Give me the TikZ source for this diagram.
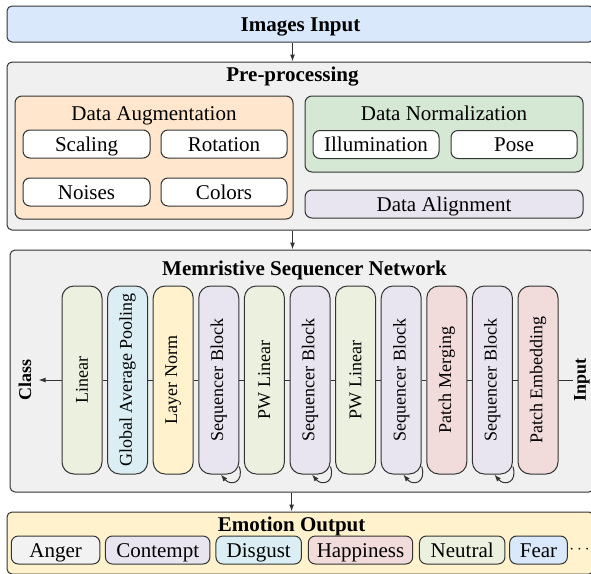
\documentclass[tikz,border=0pt]{standalone}
\usepackage{fontspec}
\setmainfont{Liberation Serif}
\usepackage{graphicx}
\usetikzlibrary{arrows.meta}
\definecolor{inblue}{HTML}{DAE8FC}
\definecolor{panelgray}{HTML}{F0F0F0}
\definecolor{anggray}{HTML}{F2F2F2}
\definecolor{augorange}{HTML}{FFE6CC}
\definecolor{normgreen}{HTML}{D5E8D4}
\definecolor{seqlav}{HTML}{E9E5F0}
\definecolor{lingreen}{HTML}{EBF1DE}
\definecolor{poolcyan}{HTML}{DAEEF3}
\definecolor{normyellow}{HTML}{FFF2CC}
\definecolor{patchpink}{HTML}{F2DCDB}
\newcommand{\diagtext}{\fontsize{21}{24}\selectfont}
\newcommand{\layertext}{\fontsize{18}{20}\selectfont}
\tikzset{
    panel/.style={draw=black!80, line width=1pt, rounded corners=5pt, fill=panelgray, inner sep=0pt},
    group/.style={draw=black!80, line width=1pt, rounded corners=7pt, inner sep=0pt},
    item/.style={draw=black!80, line width=1pt, rounded corners=7pt, fill=white, minimum height=28pt, text height=14pt, text depth=0pt, inner sep=0pt, font=\diagtext},
    layer/.style={draw=black!80, line width=1pt, rounded corners=12pt, minimum width=40pt, minimum height=188pt, inner sep=0pt, font=\layertext},
    heading/.style={anchor=base, font=\diagtext\bfseries},
    subheading/.style={anchor=base, font=\diagtext},
    sidelabel/.style={inner sep=1pt, font=\layertext\bfseries},
    link/.style={draw=black!80, line width=1pt},
    flow/.style={link, -{Latex[length=7pt,width=5pt]}},
    loopback/.style={link, -{Latex[length=7pt,width=5pt]}},
}

\begin{document}
\begin{tikzpicture}[x=1pt,y=-1pt]
            \useasboundingbox (0,0) rectangle (591,573);

            \node[panel, fill=inblue, minimum width=587pt, minimum height=36pt, text height=14pt, text depth=0pt, font=\diagtext\bfseries] (img) at (300.5,24) {Images Input};

            \node[panel, minimum width=587pt, minimum height=168pt] (pre) at (300.5,146) {};
            \node[heading] (prettl) at (292.5,81) {Pre-processing};
            \node[group, fill=augorange, minimum width=278pt, minimum height=123pt] (aug) at (154,157.5) {};
            \node[subheading] (augttl) at (154,120) {Data Augmentation};
            \node[item, minimum width=127pt] (scl) at (86.5,144) {Scaling};
            \node[item, minimum width=126pt] (rot) at (224,144) {Rotation};
            \node[item, minimum width=127pt] (noi) at (86.5,192) {Noises};
            \node[item, minimum width=126pt] (clr) at (224,192) {Colors};
            \node[group, fill=normgreen, minimum width=278pt, minimum height=76pt] (nrm) at (444,134) {};
            \node[subheading] (nrmttl) at (444,120) {Data Normalization};
            \node[item, minimum width=126pt] (ill) at (376,144.5) {Illumination};
            \node[item, minimum width=126pt] (pos) at (514,144.5) {Pose};
            \node[item, fill=seqlav, minimum width=278pt] (aln) at (444,204) {Data Alignment};

            \node[panel, minimum width=584pt, minimum height=242pt] (net) at (302,371) {};
            \node[heading] (netttl) at (304.5,275) {Memristive Sequencer Network};
            \node[layer, fill=lingreen] (lin) at (82,380) {\rotatebox{90}{Linear}};
            \node[layer, fill=poolcyan] (gap) at (127.6,380) {\rotatebox{90}{Global Average Pooling}};
            \node[layer, fill=normyellow] (ln) at (173.2,380) {\rotatebox{90}{Layer Norm}};
            \node[layer, fill=seqlav] (sba) at (218.8,380) {\rotatebox{90}{Sequencer Block}};
            \node[layer, fill=lingreen] (pwa) at (264.4,380) {\rotatebox{90}{PW Linear}};
            \node[layer, fill=seqlav] (sbb) at (310,380) {\rotatebox{90}{Sequencer Block}};
            \node[layer, fill=lingreen] (pwb) at (355.6,380) {\rotatebox{90}{PW Linear}};
            \node[layer, fill=seqlav] (sbc) at (401.2,380) {\rotatebox{90}{Sequencer Block}};
            \node[layer, fill=patchpink] (pm) at (446.8,380) {\rotatebox{90}{Patch Merging}};
            \node[layer, fill=seqlav] (sbd) at (492.4,380) {\rotatebox{90}{Sequencer Block}};
            \node[layer, fill=patchpink] (pe) at (538,380) {\rotatebox{90}{Patch Embedding}};
            \node[sidelabel, inner xsep=7pt] (cls) at (25,380) {\rotatebox{90}{Class}};
            \node[sidelabel] (inp) at (582,380) {\rotatebox{90}{Input}};

            \draw[link] (pe) -- (inp);
            \draw[link] (pe) -- (sbd);
            \draw[link] (sbd) -- (pm);
            \draw[link] (pm) -- (sbc);
            \draw[link] (sbc) -- (pwb);
            \draw[link] (pwb) -- (sbb);
            \draw[link] (sbb) -- (pwa);
            \draw[link] (pwa) -- (sba);
            \draw[link] (sba) -- (ln);
            \draw[link] (ln) -- (gap);
            \draw[link] (gap) -- (lin);
            \draw[flow] (lin) -- (cls);

            \draw[loopback] ([yshift=8pt]sba.south east) .. controls +(5,16) and +(10,12) .. ([xshift=2pt]sba.south);
            \draw[loopback] ([yshift=8pt]sbb.south east) .. controls +(5,16) and +(10,12) .. ([xshift=2pt]sbb.south);
            \draw[loopback] ([yshift=8pt]sbc.south east) .. controls +(5,16) and +(10,12) .. ([xshift=2pt]sbc.south);
            \draw[loopback] ([yshift=8pt]sbd.south east) .. controls +(5,16) and +(10,12) .. ([xshift=2pt]sbd.south);

            \node[panel, fill=normyellow, minimum width=587pt, minimum height=62pt] (emo) at (300.5,543) {};
            \node[heading] (emottl) at (291.6,531) {Emotion Output};
            \node[item, fill=anggray, minimum width=88.6pt] (ang) at (55.6,550) {Anger};
            \node[item, fill=seqlav, minimum width=104.5pt] (cnt) at (157.7,550) {Contempt};
            \node[item, fill=poolcyan, minimum width=85.5pt] (dsg) at (258.7,550) {Disgust};
            \node[item, fill=patchpink, minimum width=104.4pt] (hap) at (360.5,550) {Happiness};
            \node[item, fill=lingreen, minimum width=85.5pt] (neu) at (462.2,550) {Neutral};
            \node[item, fill=inblue, minimum width=57.7pt] (fea) at (538.5,550) {Fear};
            \node[inner sep=0pt, font=\fontsize{16}{18}\selectfont] (dts) at (579.5,550) {$\cdots$};

            \draw[flow] (img.south -| prettl) -- (pre.north -| prettl);
            \draw[flow] (pre.south -| prettl) -- (net.north -| prettl);
            \draw[flow] (net.south -| emottl) -- (emo.north -| emottl);
\end{tikzpicture}
\end{document}
